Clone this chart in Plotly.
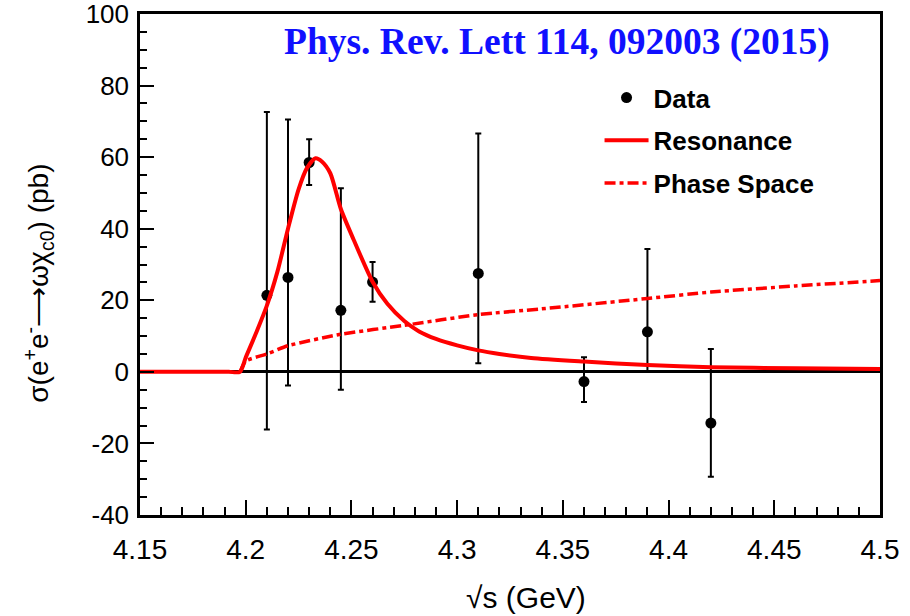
import plotly.graph_objects as go

# Data points
energy = [4.21, 4.22, 4.23, 4.245, 4.26, 4.31, 4.36, 4.39, 4.42]
xsec = [21.4, 26.4, 58.5, 17.2, 25.1, 27.5, -2.7, 11.2, -14.3]
err_up = [51.2, 44.1, 6.5, 34.1, 5.6, 39.1, 6.8, 23.1, 20.7]
err_down = [37.5, 30.2, 6.3, 22.2, 5.5, 25.1, 5.7, 11.2, 15.0]

# Resonance fit curve
res_x = [4.15, 4.18, 4.192, 4.1973, 4.2, 4.205, 4.21, 4.215, 4.22, 4.225, 4.229,
         4.233, 4.236, 4.24, 4.245, 4.251, 4.26, 4.267, 4.275, 4.282, 4.29, 4.30, 4.31,
         4.32, 4.335, 4.36, 4.39, 4.42, 4.46, 4.5]
res_y = [0, 0, 0, 0, 4, 11, 18.5, 28, 40, 51, 57,
         59.7, 58.8, 55.5, 45.5, 37, 25.2, 19, 14.2, 11.3, 9.2, 7.4, 6.0,
         5.0, 3.9, 2.9, 1.9, 1.3, 1.0, 0.8]

# Phase space curve
ps_x = [4.1973, 4.2, 4.21, 4.22, 4.245, 4.275, 4.31, 4.34, 4.39, 4.42, 4.46, 4.5]
ps_y = [0, 3, 5, 7.3, 10.5, 13, 16, 17.6, 20.5, 22.3, 24, 25.5]

x_ticks = [4.15, 4.2, 4.25, 4.3, 4.35, 4.4, 4.45, 4.5]
x_tick_labels = ["4.15", "4.2", "4.25", "4.3", "4.35", "4.4", "4.45", "4.5"]
y_ticks = [-40, -20, 0, 20, 40, 60, 80, 100]
y_tick_labels = ["-40", "-20", "0", "20", "40", "60", "80", "100"]

fig = go.Figure()

fig.add_trace(go.Scatter(
    x=energy, y=xsec, mode="markers", name="Data", legendgroup="a",
    marker=dict(color="black", size=11),
    error_y=dict(type="data", symmetric=False, array=err_up, arrayminus=err_down,
                 color="black", thickness=2, width=3),
))
fig.add_trace(go.Scatter(
    x=res_x, y=res_y, mode="lines", name="Resonance", legendgroup="b",
    line=dict(color="#ff0000", width=4, shape="spline", smoothing=0.7),
))
fig.add_trace(go.Scatter(
    x=ps_x, y=ps_y, mode="lines", name="Phase Space", legendgroup="c",
    line=dict(color="#ff0000", width=3.5, dash="11px,4px,4px,4px", shape="spline", smoothing=0.6),
))

font_family = "Liberation Sans, Arial, sans-serif"

fig.update_layout(
    width=910, height=616,
    margin=dict(l=140, r=30, t=14, b=101),
    paper_bgcolor="white", plot_bgcolor="white",
    showlegend=True,
    legend=dict(x=0.621, y=0.88, xanchor="left", yanchor="top",
                font=dict(family=font_family, size=26, color="black", weight="bold"),
                itemwidth=44,
                tracegroupgap=6, bgcolor="rgba(0,0,0,0)"),
    font=dict(family=font_family, color="black"),
    xaxis=dict(
        range=[4.15, 4.5], tickvals=x_ticks, ticktext=x_tick_labels,
        ticks="inside", ticklen=15, tickwidth=2, tickcolor="black",
        minor=dict(dtick=0.01, tick0=4.15, ticks="inside", ticklen=8, tickwidth=2, tickcolor="black"),
        showline=True, linecolor="black", linewidth=2.5, mirror=True,
        showgrid=False, zeroline=False, automargin=False,
        tickfont=dict(size=28, family=font_family),
        ticklabelstandoff=8, ticklabeloverflow="allow",
    ),
    yaxis=dict(
        range=[-40, 100], tickvals=y_ticks, ticktext=y_tick_labels,
        ticks="inside", ticklen=14, tickwidth=2, tickcolor="black",
        minor=dict(dtick=5, tick0=0, ticks="inside", ticklen=7, tickwidth=2, tickcolor="black"),
        showline=True, linecolor="black", linewidth=2.5, mirror=True,
        showgrid=False, zeroline=True, zerolinecolor="black", zerolinewidth=2.5,
        automargin=False,
        tickfont=dict(size=26, family=font_family),
        ticklabelstandoff=3, ticklabeloverflow="allow",
    ),
    annotations=[
        dict(x=0.935, y=0.99, xref="paper", yref="paper", xanchor="right", yanchor="top",
             text="<b>Phys. Rev. Lett 114, 092003 (2015)</b>", showarrow=False,
             font=dict(family="Liberation Serif, Times New Roman, serif", size=37.5, color="#1010ff")),
        dict(x=0.5216, y=-0.1637, xref="paper", yref="paper", xanchor="center", yanchor="middle",
             text="√s (GeV)", showarrow=False,
             font=dict(family=font_family, size=30, color="black")),
        dict(x=-0.137, y=0.463, xref="paper", yref="paper", xanchor="center", yanchor="middle",
             textangle=-90, showarrow=False,
             text="σ(e<sup>+</sup>e<sup>-</sup>⟶ωχ<sub>c0</sub>) (pb)",
             font=dict(family=font_family, size=28, color="black")),
    ],
)

fig.write_html("out.html")
